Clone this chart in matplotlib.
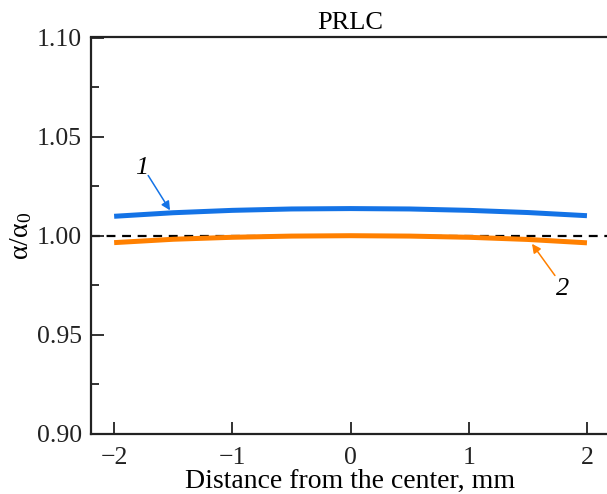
import matplotlib
matplotlib.use("Agg")
import matplotlib.pyplot as plt

x_mm = [-2.0, -1.5, -1.0, -0.5, 0.0, 0.5, 1.0, 1.5, 2.0]
curve1 = [1.0097, 1.0115, 1.0127, 1.0134, 1.0136, 1.0134, 1.0127, 1.0116, 1.0100]
curve2 = [0.9964, 0.9981, 0.9991, 0.9997, 0.9999, 0.9997, 0.9991, 0.9980, 0.9963]
x_ticks = [-2, -1, 0, 1, 2]
x_ticklabels = ["\u22122", "\u22121", "0", "1", "2"]
y_ticks = [0.90, 0.95, 1.00, 1.05, 1.10]
y_ticklabels = ["0.90", "0.95", "1.00", "1.05", "1.10"]

plt.rcParams['font.family'] = ['Liberation Serif', 'DejaVu Serif']
plt.rcParams['mathtext.fontset'] = 'custom'
plt.rcParams['mathtext.rm'] = 'Liberation Serif'
plt.rcParams['mathtext.it'] = 'Liberation Serif:italic'

fig = plt.figure(figsize=(6.07, 4.94), dpi=100)
W, H = 607, 494
left, right, top, bottom = 90.5, 610.6, 37.5, 433.5
ax = fig.add_axes([left / W, 1 - bottom / H, (right - left) / W, (bottom - top) / H])

blue = '#1473e6'
orange = '#ff8000'
ax.axhline(1.0, color='black', lw=1.6, ls=(0, (4, 3)), zorder=1)
ax.plot(x_mm, curve1, color=blue, lw=3.6, solid_capstyle='butt', zorder=2)
ax.plot(x_mm, curve2, color=orange, lw=3.6, solid_capstyle='butt', zorder=2)

ax.set_xlim(-2.2, 2.2)
ax.set_ylim(0.90, 1.10)
ax.set_xticks(x_ticks)
ax.set_xticklabels(x_ticklabels)
ax.set_yticks(y_ticks)
ax.set_yticklabels(y_ticklabels)
ax.set_yticks([0.925, 0.975, 1.025, 1.075], minor=True)

for s in ax.spines.values():
    s.set_linewidth(1.6)
    s.set_color('#222222')

ax.tick_params(axis='both', which='major', direction='in', length=9, width=1.3,
               labelsize=18.5, colors='#222222')
ax.tick_params(axis='y', which='minor', direction='in', length=6, width=1.3, colors='#222222')
ax.tick_params(axis='x', pad=10)
ax.tick_params(axis='y', pad=6)

ax.set_title('PRLC', fontsize=19, pad=6)
ax.set_xlabel('Distance from the center, mm', fontsize=20, labelpad=0)
ax.set_ylabel('\u03b1/\u03b1$_\\mathrm{0}$', fontsize=20, labelpad=2)

# label 1 with arrow
ax.text(-1.77, 1.0343, '1', fontsize=19, style='italic', ha='center', va='center')
ax.annotate('', xy=(-1.527, 1.0127), xytext=(-1.712, 1.0303),
            arrowprops=dict(arrowstyle='-|>', color=blue, lw=1.1,
                            mutation_scale=13, shrinkA=0, shrinkB=0))
# label 2 with arrow
ax.text(1.797, 0.9732, '2', fontsize=19, style='italic', ha='center', va='center')
ax.annotate('', xy=(1.535, 0.9958), xytext=(1.729, 0.9798),
            arrowprops=dict(arrowstyle='-|>', color=orange, lw=1.1,
                            mutation_scale=13, shrinkA=0, shrinkB=0))

fig.savefig('out.png', dpi=100)
